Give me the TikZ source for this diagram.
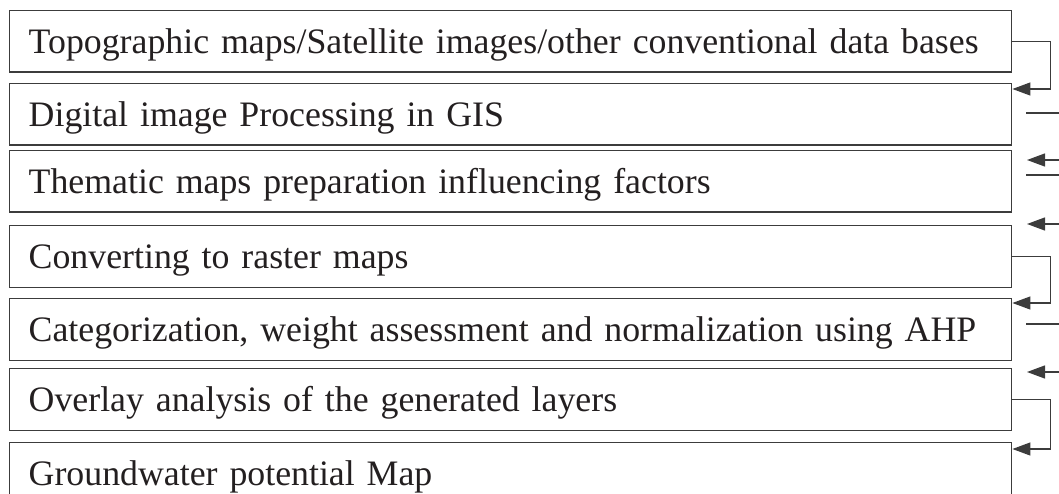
\documentclass[tikz,border=0pt]{standalone}
\usepackage{fontspec}
\setmainfont{Liberation Serif}
\usepackage{xcolor}
\definecolor{ink}{HTML}{231F20}
\definecolor{rim}{HTML}{3C3C3C}
\usetikzlibrary{arrows.meta}

\begin{document}
\begin{tikzpicture}[
  x=1pt, y=-1pt,
  font=\fontsize{35.8}{40}\selectfont,
  stepbox/.style={draw=rim, line width=1.4pt, anchor=north west, text=ink,
    inner xsep=19.5pt, inner ysep=0pt, text width=963.5pt, align=left,
    text height=43pt, text depth=18.5pt},
  link/.style={-{Triangle[length=18pt, width=13pt]}, line width=1.3pt, color=rim},
  stub/.style={line width=1.3pt, color=rim}
]
\useasboundingbox (0,0) rectangle (1059,494);
\clip (0,0) rectangle (1059,494);

% Boxes
\node[stepbox] (b1) at (8.5,10)  {Topographic maps/Satellite images/other conventional data bases};
\node[stepbox] (b2) at (8.5,83)  {Digital image Processing in GIS};
\node[stepbox] (b3) at (8.5,150) {Thematic maps preparation influencing factors};
\node[stepbox] (b4) at (8.5,225) {Converting to raster maps};
\node[stepbox] (b5) at (8.5,298) {Categorization, weight assessment and normalization using AHP};
\node[stepbox] (b6) at (8.5,368) {Overlay analysis of the generated layers};
\node[stepbox] (b7) at (8.5,442) {Groundwater potential Map};

% Elbow links
\draw[link] (b1.east) -- ++(38,0) |- ([yshift=-6pt]b2.north east);
\draw[link] (b4.east) -- ++(38,0) |- ([yshift=-5pt]b5.north east);
\draw[link] (b6.east) -- ++(38,0) |- ([yshift=-7pt]b7.north east);

% Loose ends on the right
\coordinate (s1a) at (1026,113); \coordinate (s1b) at (1059,113);
\coordinate (s2a) at (1026,175); \coordinate (s2b) at (1059,175);
\coordinate (s3a) at (1026,324); \coordinate (s3b) at (1059,324);
\coordinate (a1a) at (1059,160); \coordinate (a1b) at (1027,160);
\coordinate (a2a) at (1059,224); \coordinate (a2b) at (1027,224);
\coordinate (a3a) at (1059,372); \coordinate (a3b) at (1027,372);
\draw[stub] (s1a) -- (s1b);
\draw[stub] (s2a) -- (s2b);
\draw[stub] (s3a) -- (s3b);
\draw[link] (a1a) -- (a1b);
\draw[link] (a2a) -- (a2b);
\draw[link] (a3a) -- (a3b);

\end{tikzpicture}
\end{document}
